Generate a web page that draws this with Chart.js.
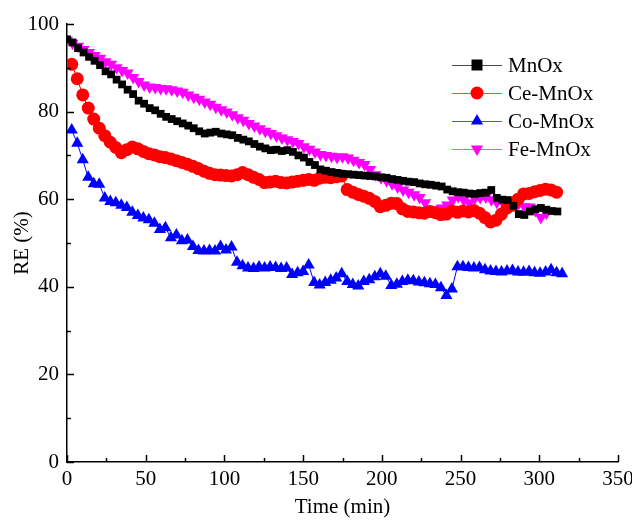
<!DOCTYPE html>
<html>
<head>
<meta charset="utf-8">
<script src="https://cdn.jsdelivr.net/npm/chart.js@4/dist/chart.umd.min.js"></script>
<style>
  html, body { margin: 0; padding: 0; background: #fff; }
</style>
</head>
<body>
<canvas id="chart" width="632" height="520"></canvas>
<script>
// RE (%) vs time, one reading every 3.5 min
const step = 3.5;

const mnoxStart = 0;
const mnox = [96.5, 95.8, 94.5, 93.5, 92.5, 91.6, 90.6, 89.2, 88.5, 87.3, 86.2, 85, 84, 82.5, 81.8,
  80.8, 80.3, 79.5, 78.8, 78.3, 77.8, 77.3, 76.8, 76.2, 75.5, 75, 75.2, 75.4, 75, 74.8, 74.6, 74,
  73.6, 73.2, 72.6, 72, 71.6, 71.2, 71.3, 71, 71.2, 70.8, 70, 69.5, 68.5, 67.8, 66.8, 66.5, 66.2,
  66, 65.8, 65.7, 65.6, 65.5, 65.4, 65.3, 65.2, 65, 64.9, 64.6, 64.4, 64.2, 64, 63.9, 63.6, 63.4,
  63.3, 63.1, 62.9, 62.2, 61.8, 61.6, 61.5, 61.3, 61.2, 61.4, 61.5, 62.1, 60.3, 59.9, 59.8, 58.5,
  56.6, 56.4, 57.2, 57.7, 58, 57.6, 57.3, 57.2];

const ceStart = 3;
const ceMnox = [90.8, 87.5, 83.8, 80.8, 78.3, 76.2, 74.5, 73, 71.8, 70.6, 71.3, 71.9, 71.5, 70.9,
  70.4, 70.1, 69.7, 69.5, 69.2, 68.8, 68.4, 68, 67.5, 67, 66.4, 65.9, 65.6, 65.5, 65.4, 65.3, 65.6,
  66.1, 65.6, 65, 64.5, 63.8, 63.9, 64.1, 63.8, 63.7, 63.9, 64.1, 64.3, 64.5, 64.3, 64.8, 65, 64.9,
  65.1, 65.3, 62.2, 61.6, 61.1, 60.7, 60.2, 59.5, 58.3, 58.6, 59.1, 59, 57.8, 57.2, 57.1, 56.9,
  56.8, 57.2, 56.9, 56.5, 56.6, 57.3, 57, 57.3, 57.1, 57.4, 56.8, 55.8, 54.8, 55.2, 56.6, 58, 58.6,
  60, 61.2, 61.3, 61.7, 62, 62.3, 62.1, 61.6];

const coStart = 3;
const coMnox = [75.8, 72.8, 69, 65, 63.5, 63.4, 60.3, 59.5, 59.2, 58.6, 58.1, 57, 56.3, 55.7, 55.3,
  54.5, 53.1, 53.5, 51.2, 51.8, 50.5, 50.7, 49.2, 48.3, 48.2, 48.3, 48.2, 49.2, 48.4, 49.1, 45.6,
  44.8, 44.3, 44.2, 44.5, 44.3, 44.5, 44.4, 44.2, 44.3, 42.8, 43.2, 43.5, 45, 41, 40.4, 41, 41.5,
  42, 43, 41.2, 40.5, 40.2, 41.2, 41.6, 42.3, 43, 42.4, 40.3, 40.6, 41.2, 41.5, 41.4, 41.1, 40.9,
  40.7, 40.5, 39.8, 38, 39.5, 44.6, 44.6, 44.4, 44.3, 44.4, 43.9, 43.6, 43.5, 43.4, 43.6, 43.7,
  43.4, 43.3, 43.5, 43.2, 43.1, 43.4, 43.9, 43.2, 43];

const feStart = 0;
const feMnox = [96.3, 95.6, 94.9, 94.2, 93.5, 92.8, 92.2, 91.4, 90.8, 90, 89.4, 88.8, 87.8, 86.9,
  86.1, 85.6, 85.5, 85.3, 85.2, 85, 84.7, 84.4, 83.8, 83.3, 82.8, 82.2, 81.7, 81, 80.4, 79.9, 79.3,
  78.6, 78, 77.3, 76.7, 76.1, 75.5, 75, 74.5, 74, 73.6, 73.2, 72.7, 72, 71.4, 70.8, 70.2, 70, 69.8,
  69.6, 69.7, 69.4, 68.9, 68.4, 67.9, 66.8, 65.6, 64.9, 64.2, 63.5, 62.8, 62.1, 61.6, 61, 60.4,
  59.2, 57.3, 57.6, 58, 58.7, 59.8, 60.6, 59.8, 59.2, 60.2, 60.4, 60.5, 59.9, 59.3, 59.5, 59, 58.8,
  59.1, 58.3, 58.2, 57.4, 55.8, 56.8];

const labels = ['MnOx', 'Ce-MnOx', 'Co-MnOx', 'Fe-MnOx'];
const colors = ['#000000', '#ff0000', '#0000ff', '#ff00ff'];

const xTicks = [0, 50, 100, 150, 200, 250, 300, 350];
const yTicks = [0, 20, 40, 60, 80, 100];

const serif = '"Liberation Serif", "Times New Roman", serif';
const font = { family: serif, size: 21 };

function toPoints(start, values) {
  return values.map((v, i) => ({ x: start + i * step, y: v }));
}

const styles = [
  { pointStyle: 'rect', radius: 5.5, rotation: 0 },
  { pointStyle: 'circle', radius: 6.5, rotation: 0 },
  { pointStyle: 'triangle', radius: 7, rotation: 0 },
  { pointStyle: 'triangle', radius: 7, rotation: 180 }
];

const series = [
  toPoints(mnoxStart, mnox),
  toPoints(ceStart, ceMnox),
  toPoints(coStart, coMnox),
  toPoints(feStart, feMnox)
];

const datasets = series.map((pts, i) => ({
  label: labels[i],
  data: pts,
  borderColor: colors[i],
  backgroundColor: colors[i],
  borderWidth: 1,
  pointStyle: styles[i].pointStyle,
  pointRadius: styles[i].radius,
  pointRotation: styles[i].rotation,
  pointBorderWidth: 0,
  tension: 0
}));

// ticks pointing into the plot, minor ones between labels
const inwardTicks = {
  id: 'inwardTicks',
  afterDraw(chart) {
    const { ctx, scales: { x, y } } = chart;
    ctx.save();
    ctx.strokeStyle = '#000';
    ctx.lineWidth = 1.5;
    ctx.beginPath();
    for (let v = x.min; v <= x.max; v += 25) {
      const px = Math.round(x.getPixelForValue(v)) + 0.5;
      const len = v % 50 === 0 ? 7 : 4;
      ctx.moveTo(px, y.bottom);
      ctx.lineTo(px, y.bottom - len);
    }
    for (let v = y.min; v <= y.max; v += 10) {
      const py = Math.round(y.getPixelForValue(v)) + 0.5;
      const len = v % 20 === 0 ? 7 : 4;
      ctx.moveTo(x.left, py);
      ctx.lineTo(x.left + len, py);
    }
    ctx.stroke();
    ctx.restore();
  }
};

function drawMarker(ctx, style, cx, cy, color) {
  ctx.fillStyle = color;
  ctx.beginPath();
  const r = style.radius;
  if (style.pointStyle === 'rect') {
    ctx.rect(cx - r, cy - r, 2 * r, 2 * r);
  } else if (style.pointStyle === 'circle') {
    ctx.arc(cx, cy, r, 0, Math.PI * 2);
  } else {
    const dir = style.rotation === 180 ? -1 : 1;
    ctx.moveTo(cx, cy - dir * r);
    ctx.lineTo(cx + r * 0.87, cy + dir * r * 0.5);
    ctx.lineTo(cx - r * 0.87, cy + dir * r * 0.5);
    ctx.closePath();
  }
  ctx.fill();
}

const sideLegend = {
  id: 'sideLegend',
  afterDraw(chart) {
    const ctx = chart.ctx;
    ctx.save();
    ctx.font = font.size + 'px ' + serif;
    ctx.textBaseline = 'middle';
    labels.forEach((name, i) => {
      const rowY = 65 + i * 28;
      ctx.strokeStyle = colors[i];
      ctx.globalAlpha = 0.7;
      ctx.lineWidth = 1;
      ctx.beginPath();
      ctx.moveTo(452, rowY + 0.5);
      ctx.lineTo(502, rowY + 0.5);
      ctx.stroke();
      ctx.globalAlpha = 1;
      drawMarker(ctx, styles[i], 477, rowY, colors[i]);
      ctx.fillStyle = '#000';
      ctx.fillText(name, 508, rowY + 1);
    });
    ctx.restore();
  }
};

new Chart(document.getElementById('chart'), {
  type: 'line',
  data: { datasets },
  options: {
    responsive: false,
    animation: false,
    layout: { padding: { left: 0, right: 14, top: 24, bottom: 0 } },
    plugins: { legend: { display: false }, tooltip: { enabled: false } },
    scales: {
      x: {
        type: 'linear',
        min: 0,
        max: 350,
        afterBuildTicks: (s) => { s.ticks = xTicks.map(v => ({ value: v })); },
        ticks: { font, color: '#000', padding: 5, maxRotation: 0, autoSkip: false },
        grid: { display: false, drawTicks: false },
        border: { color: '#000', width: 1.5 },
        title: { display: true, text: 'Time (min)', font, color: '#000', padding: { top: 0, bottom: 0 } },
        afterFit: (s) => { s.height = 58; s.paddingLeft = 0; s.paddingRight = 0; }
      },
      y: {
        min: 0,
        max: 100,
        afterBuildTicks: (s) => { s.ticks = yTicks.map(v => ({ value: v })); },
        ticks: { font, color: '#000', padding: 8 },
        grid: { display: false, drawTicks: false },
        border: { color: '#000', width: 1.5 },
        title: { display: true, text: 'RE (%)', font, color: '#000', padding: { top: 10, bottom: 0 } },
        afterFit: (s) => { s.width = 67; s.paddingTop = 0; s.paddingBottom = 0; }
      }
    }
  },
  plugins: [inwardTicks, sideLegend]
});
</script>
</body>
</html>
